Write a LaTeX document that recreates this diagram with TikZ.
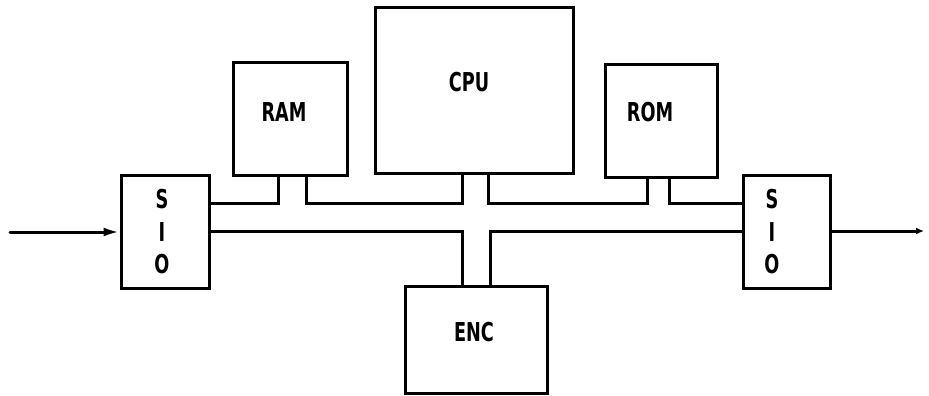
\documentclass[tikz,border=0pt]{standalone}
\usepackage{fontspec}
\setmainfont{DejaVu Sans}
\usetikzlibrary{arrows.meta}
\begin{document}
\begin{tikzpicture}[x=1pt, y=-1pt, line width=3pt,
  unit/.style={draw, line width=3pt, inner sep=0pt},
  lbl/.style={font=\fontsize{26}{32.5}\selectfont\bfseries, xscale=0.68, inner sep=0pt, align=center}]
\useasboundingbox (0,0) rectangle (929,396);
% boxes
\node at (165,231.5) (SIOL) [unit, minimum width=88pt, minimum height=113pt] {};
\node at (290,119) (RAM) [unit, minimum width=114pt, minimum height=112pt] {};
\node at (474,90.5) (CPU) [unit, minimum width=198pt, minimum height=165pt] {};
\node at (661,121) (ROM) [unit, minimum width=112pt, minimum height=112pt] {};
\node at (786.5,231.5) (SIOR) [unit, minimum width=87pt, minimum height=113pt] {};
\node at (476,339.5) (ENC) [unit, minimum width=142pt, minimum height=107pt] {};
% labels
\node at (162,232) (SIOLt) [lbl] {S\\I\\O};
\node at (284,112) (RAMt) [lbl] {RAM};
\node at (469,82) (CPUt) [lbl] {CPU};
\node at (650,112) (ROMt) [lbl] {ROM};
\node at (772,232) (SIORt) [lbl] {S\\I\\O};
\node at (474,332) (ENCt) [lbl] {ENC};
% bus
\coordinate (up) at (0,203);
\coordinate (lo) at (0,231.5);
\draw (SIOL.east |- up) -| ([xshift=-12pt]RAM.south);
\draw ([xshift=16pt]RAM.south) -- ([xshift=16pt]RAM.south |- up) -| ([xshift=-12pt]CPU.south);
\draw ([xshift=14pt]CPU.south) -- ([xshift=14pt]CPU.south |- up) -| ([xshift=-14pt]ROM.south);
\draw ([xshift=8pt]ROM.south) -- ([xshift=8pt]ROM.south |- up) -- (SIOR.west |- up);
\draw (SIOL.east |- lo) -| ([xshift=-14pt]ENC.north);
\draw ([xshift=14pt]ENC.north) |- (SIOR.west |- lo);
% in / out
\coordinate (in) at (10,232);
\coordinate (out) at (924,231);
\draw[-{Latex[length=16pt,width=9pt]}, line cap=round] (in) -- (SIOL.west |- in);
\draw[-{Latex[length=8pt,width=7pt]}] (SIOR.east |- out) -- (out);
\end{tikzpicture}
\end{document}
